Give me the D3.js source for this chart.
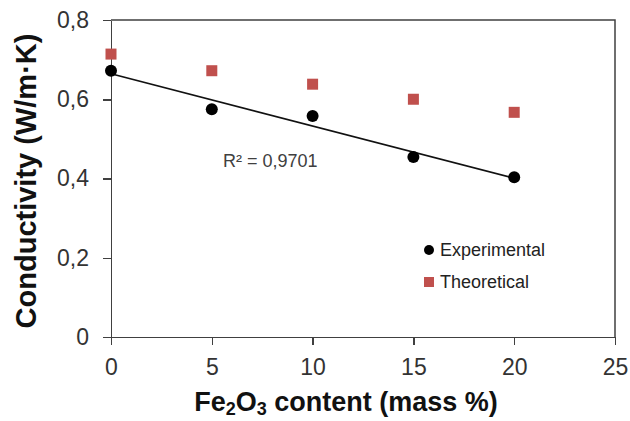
<!DOCTYPE html>
<html lang="en">
<head>
<meta charset="UTF-8">
<title>Conductivity vs Fe2O3 content</title>
<script src="https://d3js.org/d3.v7.min.js"></script>
<style>
body { margin: 0; background: #fff; }
text { font-family: "Liberation Sans", Arial, sans-serif; }
.axis path, .axis line { stroke: #404040; stroke-width: 1.5px; shape-rendering: crispEdges; }
.axis text { font-size: 23px; fill: #333; }
</style>
</head>
<body>
<div id="chart"></div>
<script>
// data
var massPct = [0, 5, 10, 15, 20];
var experimental = [0.672, 0.575, 0.558, 0.454, 0.403];
var theoretical = [0.714, 0.672, 0.638, 0.600, 0.567];
var xTicks = [0, 5, 10, 15, 20, 25];
var yTicks = [0, 0.2, 0.4, 0.6, 0.8];
var r2Label = "R² = 0,9701";
var legendNames = ["Experimental", "Theoretical"];

var width = 630, height = 421;
var margin = {left: 111, right: 15, top: 20, bottom: 84};
var w = width - margin.left - margin.right;
var h = height - margin.top - margin.bottom;

var svg = d3.select("#chart").append("svg")
    .attr("width", width)
    .attr("height", height);

var g = svg.append("g")
    .attr("transform", "translate(" + margin.left + "," + margin.top + ")");

var x = d3.scaleLinear().domain([0, 25]).range([0, w]);
var y = d3.scaleLinear().domain([0, 0.8]).range([h, 0]);

function comma(d) {
    return d === 0 ? "0" : d.toFixed(1).replace(".", ",");
}

// box (top and right)
g.append("path")
    .attr("d", "M0,0H" + w + "V" + h)
    .attr("fill", "none")
    .attr("stroke", "#404040")
    .attr("stroke-width", 1.5);

g.append("g")
    .attr("class", "axis")
    .attr("transform", "translate(0," + h + ")")
    .call(d3.axisBottom(x).tickValues(xTicks).tickSize(8).tickSizeOuter(0).tickPadding(14));

g.append("g")
    .attr("class", "axis")
    .call(d3.axisLeft(y).tickValues(yTicks).tickFormat(comma).tickSize(8).tickSizeOuter(0).tickPadding(14));

// linear trend of experimental points
var n = massPct.length;
var mx = d3.mean(massPct), my = d3.mean(experimental);
var sxy = 0, sxx = 0;
for (var i = 0; i < n; i++) {
    sxy += (massPct[i] - mx) * (experimental[i] - my);
    sxx += (massPct[i] - mx) * (massPct[i] - mx);
}
var slope = sxy / sxx, icpt = my - slope * mx;
var x0 = d3.min(massPct), x1 = d3.max(massPct);

g.append("line")
    .attr("x1", x(x0)).attr("y1", y(icpt + slope * x0))
    .attr("x2", x(x1)).attr("y2", y(icpt + slope * x1))
    .attr("stroke", "#111")
    .attr("stroke-width", 1.6);

g.selectAll("rect.theo")
    .data(massPct)
    .enter().append("rect")
    .attr("class", "theo")
    .attr("x", function(d) { return x(d) - 5.5; })
    .attr("y", function(d, i) { return y(theoretical[i]) - 5.5; })
    .attr("width", 11).attr("height", 11)
    .attr("fill", "#c0504d");

g.selectAll("circle.exp")
    .data(massPct)
    .enter().append("circle")
    .attr("class", "exp")
    .attr("cx", function(d) { return x(d); })
    .attr("cy", function(d, i) { return y(experimental[i]); })
    .attr("r", 6)
    .attr("fill", "#000");

svg.append("text")
    .attr("x", 223).attr("y", 167)
    .style("font-size", "18px")
    .attr("fill", "#404040")
    .text(r2Label);

// legend
var leg = svg.append("g").attr("transform", "translate(429,250)");
leg.append("circle").attr("cx", 0).attr("cy", 0).attr("r", 5).attr("fill", "#000");
leg.append("rect").attr("x", -5).attr("y", 27).attr("width", 10).attr("height", 10).attr("fill", "#c0504d");
leg.selectAll("text")
    .data(legendNames)
    .enter().append("text")
    .attr("x", 11)
    .attr("y", function(d, i) { return 6 + i * 32; })
    .style("font-size", "18px")
    .attr("fill", "#222")
    .text(function(d) { return d; });

// axis titles
var xt = svg.append("text")
    .attr("x", 346).attr("y", 411)
    .attr("text-anchor", "middle")
    .style("font-size", "27px")
    .style("font-weight", "bold")
    .attr("fill", "#111");
xt.append("tspan").text("Fe");
xt.append("tspan").attr("dy", 4).style("font-size", "18px").text("2");
xt.append("tspan").attr("dy", -4).text("O");
xt.append("tspan").attr("dy", 4).style("font-size", "18px").text("3");
xt.append("tspan").attr("dy", -4).text(" content (mass %)");

svg.append("text")
    .attr("transform", "translate(36,181) rotate(-90)")
    .attr("text-anchor", "middle")
    .style("font-size", "29px")
    .style("font-weight", "bold")
    .attr("fill", "#111")
    .text("Conductivity (W/m·K)");
</script>
</body>
</html>
